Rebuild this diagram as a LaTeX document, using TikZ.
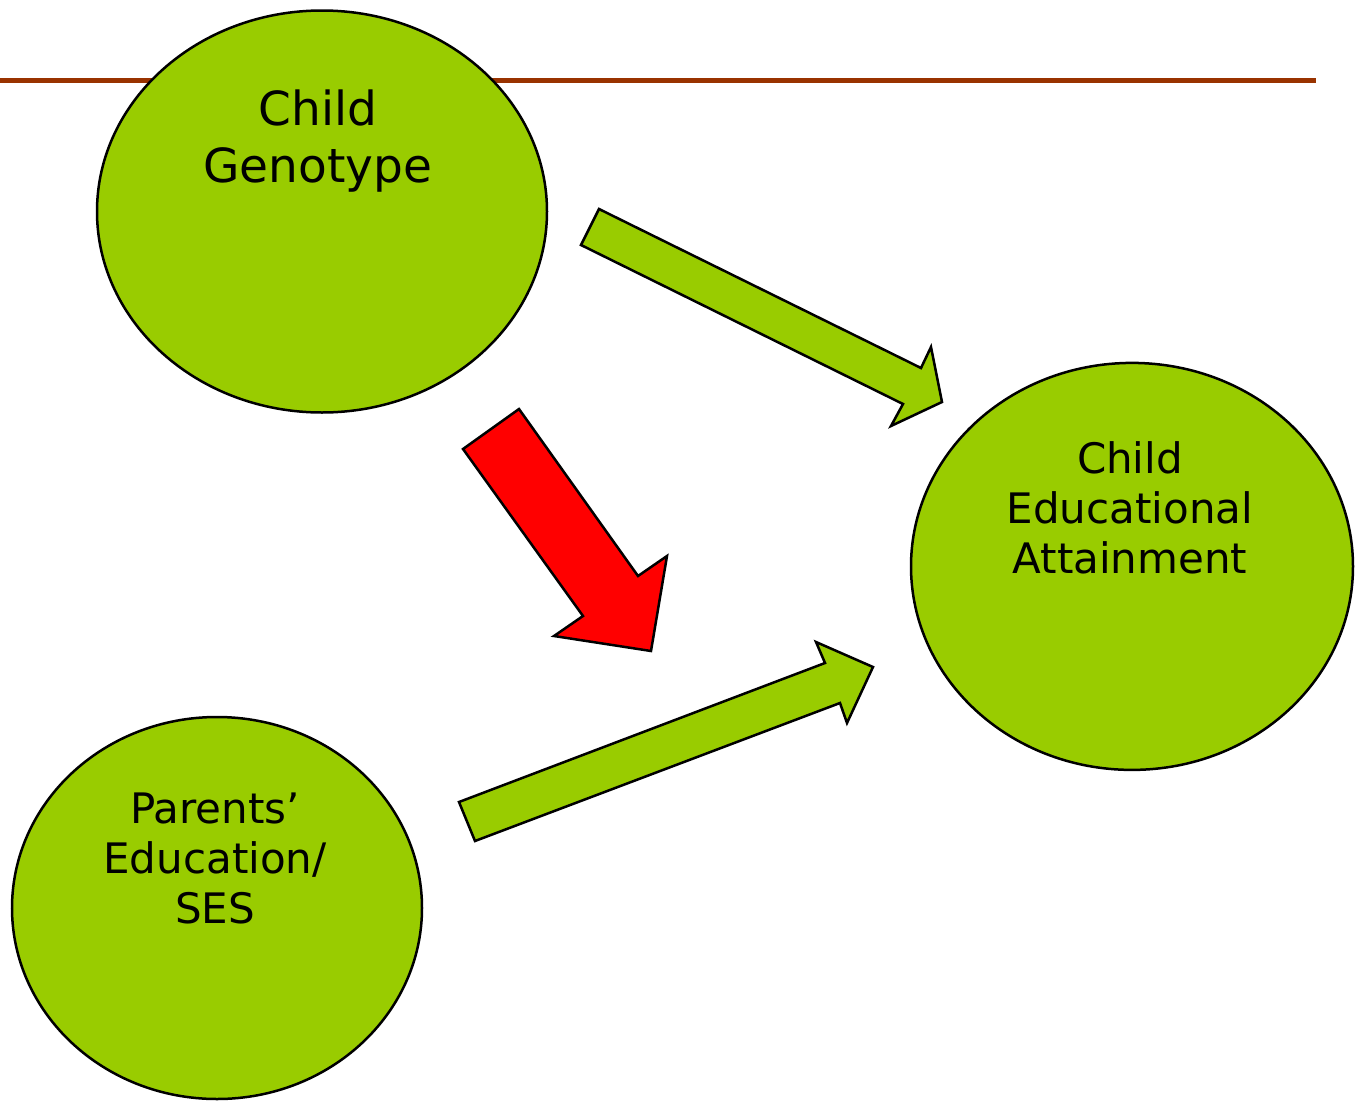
\documentclass[tikz,border=0pt]{standalone}
\usepackage{fontspec}
\setmainfont{DejaVu Sans}
\usetikzlibrary{shapes.geometric}
\definecolor{leaf}{HTML}{99CC00}
\definecolor{rule}{HTML}{993300}
\definecolor{hot}{HTML}{FF0000}
\begin{document}
\begin{tikzpicture}[x=1pt,y=-1pt,
  bubble/.style={ellipse, draw=black, line width=2.5pt, fill=leaf, inner sep=0pt},
  blockarrow/.style={draw=black, line width=2.5pt, line join=miter, fill=leaf},
  bigtext/.style={anchor=north, inner sep=0pt, align=center, font=\fontsize{47}{57}\selectfont},
  midtext/.style={anchor=north, inner sep=0pt, align=center, font=\fontsize{42}{50}\selectfont}]
\useasboundingbox (0,0) rectangle (1361,1101);
% header rule
\coordinate (ruleL) at (0,80.8);
\coordinate (ruleR) at (1316,80.8);
\draw[rule, line width=5pt] (ruleL) -- (ruleR);
% bubbles
\node[bubble, minimum width=450pt, minimum height=402pt] (geno) at (322,211.5) {};
\node[bubble, minimum width=442pt, minimum height=407pt] (attain) at (1132,566.4) {};
\node[bubble, minimum width=410pt, minimum height=382pt] (parents) at (217,908) {};
% labels
\node[bigtext] (genoT) at (318,89.3) {Child\\Genotype};
\node[midtext] (attainT) at (1130,441) {Child\\Educational\\Attainment};
\node[midtext] (parentsT) at (215,792.4) {Parents’\\Education/\\SES};
% block arrows
\draw[blockarrow] (599,209) -- (581,245) -- (903,404) -- (891,426) -- (942,402) -- (931,347) -- (921,368) -- cycle;
\draw[blockarrow, fill=hot] (519,409) -- (463,449) -- (583,616) -- (554,636) -- (651,651) -- (667,556) -- (638,576) -- cycle;
\draw[blockarrow] (459,802) -- (475,841) -- (840,703) -- (847,723) -- (873,667) -- (816,642) -- (825,663) -- cycle;
\end{tikzpicture}
\end{document}
